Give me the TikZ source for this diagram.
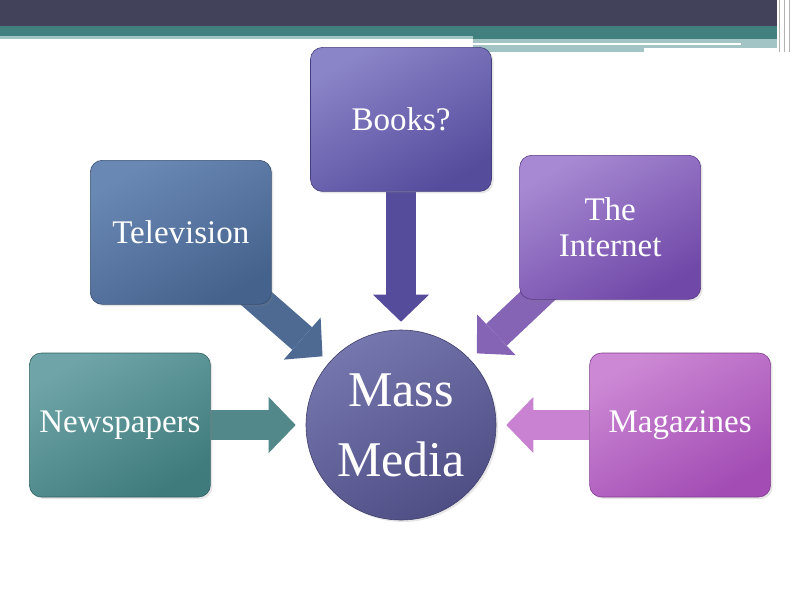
\documentclass[tikz,border=0pt]{standalone}
\usepackage{fontspec}
\setmainfont{Liberation Serif}
\usetikzlibrary{arrows.meta,positioning,shadows,backgrounds}
\definecolor{barDark}{HTML}{42425A}
\definecolor{barTeal}{HTML}{42807F}
\definecolor{barLight}{HTML}{A3C4C4}
\definecolor{newsTop}{HTML}{6FA5A8}
\definecolor{newsBot}{HTML}{3F7B7C}
\definecolor{tvTop}{HTML}{6A88B4}
\definecolor{tvBot}{HTML}{45628D}
\definecolor{bookTop}{HTML}{8A84C8}
\definecolor{bookBot}{HTML}{554C9C}
\definecolor{netTop}{HTML}{A689D2}
\definecolor{netBot}{HTML}{7048A8}
\definecolor{magTop}{HTML}{CC88D4}
\definecolor{magBot}{HTML}{A24CB4}
\definecolor{massTop}{HTML}{7676AE}
\definecolor{massBot}{HTML}{4F4F86}

\begin{document}
\begin{tikzpicture}[x=1pt, y=1pt]
\tikzset{
    mediabox/.style={rectangle, rounded corners=12pt, minimum width=181pt, minimum height=144pt,
        text=white, align=center, font=\fontsize{33}{36}\selectfont, line width=0.6pt,
        drop shadow={opacity=0.2, shadow xshift=2pt, shadow yshift=-2pt}},
    masscircle/.style={circle, minimum size=190pt, inner sep=0pt, text=white, align=center,
        font=\fontsize{50}{70}\selectfont, draw=massBot!80!black, line width=0.6pt,
        top color=massTop, bottom color=massBot, shading angle=30,
        drop shadow={opacity=0.2, shadow xshift=2pt, shadow yshift=-2pt}},
    blockarrow/.style={line width=30pt, -{Triangle[length=27pt, width=56pt, line width=0pt]}}
}
\useasboundingbox (0,0) rectangle (800,-600);

% top bar
\fill[barDark] (0,0) rectangle (777,-26);
\fill[barTeal] (0,-26) rectangle (777,-36);
\fill[barLight] (0,-36) rectangle (473,-39);
\fill[barTeal] (473,-36) rectangle (777,-39);
\fill[barLight] (473,-39) rectangle (777,-52);
\fill[white] (473,-43) rectangle (741,-45);
\fill[white] (644,-48) rectangle (777,-52);
\foreach \xx in {779,784,789}
    \draw[gray!60, line width=0.8pt] (\xx,0) -- (\xx,-52);

\node[masscircle] (media) at (401,-425) {Mass\\Media};
\node[mediabox, above=138pt of media, top color=bookTop, bottom color=bookBot, shading angle=30,
    draw=bookBot!80!black] (books) {Books?};
\node[mediabox, left=95pt of media, top color=newsTop, bottom color=newsBot, shading angle=30,
    draw=newsBot!80!black] (news) {Newspapers};
\node[mediabox, right=93pt of media, top color=magTop, bottom color=magBot, shading angle=30,
    draw=magBot!80!black] (mags) {Magazines};
\node[mediabox, above left=53pt and 62pt of media, top color=tvTop, bottom color=tvBot, shading angle=30,
    draw=tvBot!80!black] (tv) {Television};
\node[mediabox, above right=58pt and 51pt of media, top color=netTop, bottom color=netBot, shading angle=30,
    draw=netBot!80!black] (net) {The\\Internet};

% the diagonal arrows start under their boxes
\begin{scope}[on background layer]
\draw[blockarrow, newsBot!90!white, shorten >=10pt] (news) -- (media);
\draw[blockarrow, tvBot!95!white, shorten >=9pt] (tv.center) -- (media);
\draw[blockarrow, bookBot, shorten >=8pt] (books) -- (media);
\draw[blockarrow, netBot!85!white, shorten >=9pt] (net.center) -- (media);
\draw[blockarrow, magTop!90!magBot, shorten >=10pt] (mags) -- (media);
\end{scope}
\end{tikzpicture}
\end{document}
